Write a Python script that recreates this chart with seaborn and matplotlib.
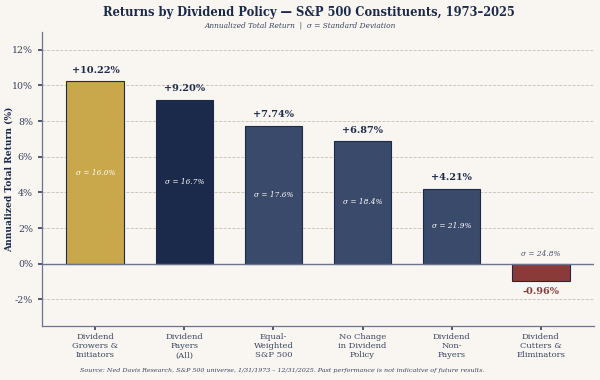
import seaborn as sns
import matplotlib.pyplot as plt
import pandas as pd

categories = ["Dividend\nGrowers &\nInitiators", "Dividend\nPayers\n(All)", "Equal-\nWeighted\nS&P 500",
              "No Change\nin Dividend\nPolicy", "Dividend\nNon-\nPayers", "Dividend\nCutters &\nEliminators"]
returns = [10.22, 9.20, 7.74, 6.87, 4.21, -0.96]
std_devs = [16.0, 16.7, 17.6, 18.4, 21.9, 24.8]
colors = ["#C9A84C", "#1B2A4A", "#3A4A6B", "#3A4A6B", "#3A4A6B", "#8B3A3A"]

bg = "#F9F6F1"
navy = "#1B2A4A"

sns.set_theme(style="white")
plt.rcParams['font.family'] = ['DejaVu Serif']

df = pd.DataFrame({"cat": categories, "ret": returns})

fig, ax = plt.subplots(figsize=(6, 3.8), dpi=100)
fig.patch.set_facecolor(bg)
ax.set_facecolor(bg)

sns.barplot(data=df, x="cat", y="ret", hue="cat", palette=colors, legend=False,
            width=0.65, edgecolor=navy, linewidth=0.8, saturation=1, ax=ax, zorder=3)

for i, (r, s) in enumerate(zip(returns, std_devs)):
    if r >= 0:
        ax.text(i, r + 0.35, f"+{r:.2f}%", ha="center", va="bottom", fontsize=7,
                fontweight="bold", color=navy, zorder=4)
        ax.text(i, r / 2, f"σ = {s:.1f}%", ha="center", va="center", fontsize=5.3,
                style="italic", color="white", zorder=4)
    else:
        ax.text(i, r - 0.35, f"{r:.2f}%", ha="center", va="top", fontsize=7,
                fontweight="bold", color="#8B3A3A", zorder=4)
        ax.text(i, 0.3, f"σ = {s:.1f}%", ha="center", va="bottom", fontsize=5.3,
                style="italic", color="#4A5570", zorder=4)

ax.axhline(0, color="#6B7390", linewidth=1, zorder=4)
ax.set_ylim(-3.5, 13)
ax.set_xlim(-0.6, 5.6)
ax.set_yticks([-2, 0, 2, 4, 6, 8, 10, 12])
ax.set_yticklabels([f"{t}%" for t in [-2, 0, 2, 4, 6, 8, 10, 12]])
ax.yaxis.grid(True, linestyle="--", color="#C8C0B4", linewidth=0.6, zorder=0)
ax.tick_params(axis="both", colors="#3A4560", length=3, left=True, bottom=True)
ax.tick_params(axis="x", labelsize=6, pad=2)
ax.tick_params(axis="y", labelsize=6.8)
for side in ["top", "right"]:
    ax.spines[side].set_visible(False)
for side in ["left", "bottom"]:
    ax.spines[side].set_color("#6B7390")
    ax.spines[side].set_linewidth(0.9)

ax.set_xlabel("")
ax.set_ylabel("Annualized Total Return (%)", fontsize=6.6, fontweight="bold", color=navy)
ax.yaxis.set_label_coords(-0.052, 0.5)

fig.text(0.515, 0.968, "Returns by Dividend Policy — S&P 500 Constituents, 1973–2025",
         ha="center", va="center", fontsize=8.3, fontweight="bold", color=navy)
fig.text(0.50, 0.934, "Annualized Total Return  |  σ = Standard Deviation",
         ha="center", va="center", fontsize=5.3, style="italic", color="#3A4560")
fig.text(0.47, 0.026, "Source: Ned Davis Research, S&P 500 universe, 1/31/1973 – 12/31/2025. Past performance is not indicative of future results.",
         ha="center", va="center", fontsize=4.6, style="italic", color="#3A4560")

fig.subplots_adjust(left=0.07, right=0.99, top=0.916, bottom=0.142)
fig.savefig("out.png", dpi=100, facecolor=bg)
